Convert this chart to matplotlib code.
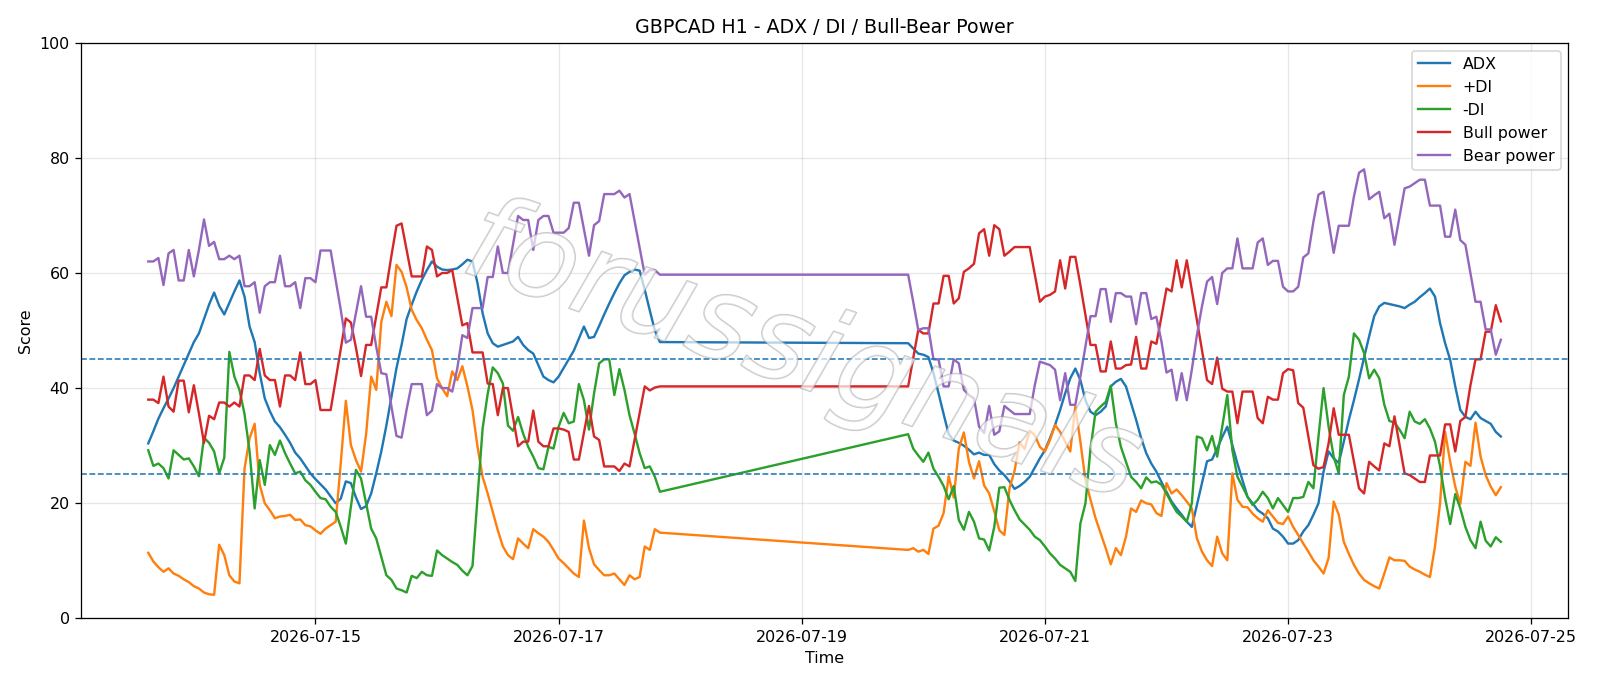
import matplotlib
matplotlib.use("Agg")
import matplotlib.pyplot as plt
import matplotlib.dates as mdates
import matplotlib.patheffects as pe
import pandas as pd

# hourly bars, weekend gap between Friday 20:00 and Sunday 21:00
times_week1 = pd.date_range("2026-07-13 15:00", "2026-07-17 20:00", freq="h")
times_week2 = pd.date_range("2026-07-19 21:00", "2026-07-24 18:00", freq="h")
times = list(times_week1) + list(times_week2)

adx = [
    30.4, 32.5, 34.7, 36.5, 38.2, 40.0, 42.0, 44.0, 46.0, 48.0,
    49.5, 52.0, 54.5, 56.6, 54.3, 52.8, 54.8, 56.8, 58.7, 55.9,
    50.7, 48.0, 42.6, 38.2, 36.0, 34.2, 33.2, 31.9, 30.5, 28.8,
    27.8, 26.5, 25.2, 24.2, 23.3, 22.4, 21.2, 20.0, 20.8, 23.8,
    23.5, 21.0, 19.0, 19.5, 21.7, 25.2, 29.0, 33.5, 38.5, 43.5,
    47.5, 52.0, 54.5, 56.8, 58.8, 60.5, 62.0, 61.1, 60.6, 60.5,
    60.6, 60.8, 61.5, 62.3, 62.0, 58.2, 53.0, 49.5, 47.8, 47.2,
    47.5, 47.8, 48.1, 48.9, 47.5, 46.6, 46.0, 44.0, 42.0, 41.4,
    41.0, 42.0, 43.5, 45.0, 46.5, 48.6, 50.7, 48.7, 48.9, 50.8,
    52.8, 54.7, 56.5, 58.2, 59.6, 60.2, 60.6, 60.4, 57.1, 53.5,
    50.0, 48.0,
    47.8, 46.9, 46.0, 45.8, 45.4, 42.6, 39.1, 35.5, 32.0, 30.9,
    30.5, 30.0, 29.3, 28.5, 28.8, 28.4, 28.4, 26.8, 25.7, 24.9,
    23.8, 22.5, 23.0, 23.7, 24.6, 26.2, 27.8, 29.2, 31.3, 33.6,
    36.2, 39.1, 41.7, 43.4, 41.4, 37.9, 35.9, 35.3, 35.9, 36.8,
    40.3, 41.1, 41.6, 40.3, 37.4, 34.5, 31.3, 28.7, 26.9, 25.5,
    23.7, 22.0, 20.3, 19.1, 18.0, 16.8, 15.9, 19.7, 23.5, 27.3,
    27.6, 29.5, 31.5, 33.3, 30.1, 26.9, 24.0, 21.1, 20.0, 18.8,
    18.2, 17.4, 15.6, 15.1, 14.2, 13.0, 13.0, 13.6, 15.1, 16.2,
    18.0, 20.0, 25.5, 29.0, 27.8, 27.0, 30.7, 34.5, 37.9, 41.5,
    45.3, 49.0, 52.5, 54.2, 54.8, 54.6, 54.4, 54.2, 53.9, 54.5,
    55.0, 55.8, 56.5, 57.3, 55.9, 51.3, 47.8, 44.9, 40.3, 36.2,
    35.0, 34.6, 35.9, 34.8, 34.3, 33.8, 32.4, 31.6,
]

plus_di = [
    11.4, 9.9, 8.9, 8.1, 8.7, 7.8, 7.4, 6.8, 6.3, 5.6,
    5.2, 4.5, 4.2, 4.1, 12.8, 11.0, 7.5, 6.4, 6.1, 26.0,
    31.3, 33.8, 23.2, 20.0, 18.8, 17.4, 17.7, 17.8, 18.0, 17.1,
    17.2, 16.2, 16.0, 15.3, 14.7, 15.6, 16.2, 16.8, 27.0, 37.8,
    30.1, 27.5, 25.5, 32.0, 42.0, 39.7, 51.5, 55.0, 52.5, 61.4,
    60.2, 57.5, 53.6, 51.8, 50.4, 48.4, 46.6, 41.7, 40.0, 38.6,
    42.9, 41.4, 43.8, 40.3, 36.2, 29.8, 24.6, 21.7, 18.5, 15.3,
    12.5, 11.0, 10.3, 13.9, 13.0, 12.2, 15.5, 14.8, 14.2, 13.3,
    11.9, 10.4, 9.6, 8.7, 7.8, 7.2, 17.0, 12.2, 9.4, 8.4,
    7.5, 7.5, 7.8, 6.8, 5.8, 7.5, 6.8, 7.2, 12.5, 11.9,
    15.5, 14.9,
    11.9, 12.2, 11.6, 11.9, 11.2, 15.6, 16.1, 18.3, 24.7, 21.0,
    29.5, 32.3, 27.2, 24.3, 27.3, 23.1, 21.7, 18.6, 15.3, 14.5,
    22.6, 25.6, 30.6, 29.4, 32.6, 31.8, 29.8, 29.0, 31.0, 33.6,
    32.4, 30.7, 29.0, 36.8, 30.7, 24.0, 20.6, 17.4, 14.8, 12.2,
    9.4, 12.2, 11.0, 14.2, 19.1, 18.5, 20.5, 20.0, 19.8, 18.3,
    17.8, 23.5, 21.7, 22.4, 21.4, 20.3, 19.1, 13.9, 11.6, 10.1,
    9.1, 14.2, 11.3, 10.1, 25.2, 20.6, 19.4, 19.3, 18.2, 17.4,
    16.8, 18.8, 17.7, 16.6, 16.4, 17.7, 15.9, 14.5, 13.0, 11.6,
    10.1, 9.0, 7.8, 10.5, 20.3, 18.0, 13.3, 11.2, 9.3, 7.8,
    6.7, 6.1, 5.6, 5.2, 7.8, 10.6, 10.1, 10.1, 10.0, 9.0,
    8.5, 8.1, 7.6, 7.2, 12.5, 20.0, 32.4, 27.2, 22.9, 19.9,
    27.2, 26.5, 34.0, 28.1, 24.9, 22.9, 21.4, 22.8,
]

minus_di = [
    29.2, 26.5, 26.9, 26.1, 24.3, 29.2, 28.4, 27.6, 27.8, 26.4,
    24.7, 31.4, 30.5, 29.0, 25.2, 27.9, 46.3, 42.0, 39.7, 35.5,
    29.0, 19.1, 27.5, 23.2, 30.1, 28.4, 30.9, 28.7, 26.9, 25.2,
    25.5, 24.0, 23.2, 22.0, 20.9, 20.7, 19.4, 18.5, 15.9, 13.0,
    19.4, 25.8, 24.3, 20.0, 15.6, 13.9, 10.7, 7.5, 6.7, 5.2,
    4.9, 4.5, 7.4, 7.0, 8.1, 7.5, 7.4, 11.8, 11.0, 10.4,
    9.8, 9.3, 8.3, 7.5, 9.1, 21.0, 33.0, 39.0, 43.6, 42.6,
    40.8, 33.5, 32.6, 35.0, 32.1, 29.8, 28.1, 26.1, 25.9, 29.8,
    29.5, 33.3, 35.7, 33.9, 34.2, 40.7, 37.9, 32.8, 39.1, 44.3,
    45.0, 45.0, 38.8, 43.3, 39.7, 35.3, 32.1, 28.7, 26.1, 26.4,
    24.6, 22.0,
    32.0, 29.5, 28.3, 27.2, 28.8, 26.0, 24.6, 23.0, 20.7, 23.0,
    17.1, 15.4, 18.5, 16.8, 13.9, 13.7, 11.8, 15.9, 22.7, 22.8,
    20.6, 18.8, 17.2, 16.3, 15.4, 14.2, 13.6, 12.5, 11.3, 10.4,
    9.3, 8.7, 8.1, 6.5, 16.5, 20.0, 29.5, 35.9, 36.8, 37.6,
    40.4, 33.9, 29.8, 27.2, 24.6, 23.7, 22.6, 24.5, 23.6, 23.8,
    23.2, 21.7, 20.0, 18.5, 17.7, 16.8, 20.0, 31.6, 31.3, 29.2,
    31.7, 28.1, 33.3, 38.8, 29.2, 24.6, 22.9, 21.1, 19.7, 20.6,
    22.0, 20.9, 19.1, 20.9, 19.7, 18.5, 20.9, 20.9, 21.1, 23.7,
    22.6, 31.6, 40.0, 33.3, 28.1, 25.2, 38.8, 42.0, 49.5, 48.4,
    46.1, 41.7, 43.2, 41.7, 37.1, 34.3, 34.0, 32.8, 31.3, 35.9,
    34.2, 33.8, 34.6, 33.0, 30.7, 26.4, 20.9, 16.4, 21.6, 19.1,
    15.9, 13.6, 12.2, 16.8, 13.5, 12.5, 14.1, 13.3,
]

bull_power = [
    38.0, 38.0, 37.4, 42.0, 36.8, 35.9, 41.3, 41.3, 35.8, 40.5,
    35.6, 30.5, 35.2, 34.6, 37.5, 37.5, 36.8, 37.5, 36.8, 42.2,
    42.2, 41.4, 46.8, 42.2, 41.4, 41.4, 36.8, 42.2, 42.2, 41.4,
    46.2, 40.7, 40.7, 41.4, 36.2, 36.2, 36.2, 41.5, 46.8, 52.1,
    51.4, 47.0, 42.1, 47.5, 47.5, 52.5, 57.5, 57.5, 63.0, 68.2,
    68.6, 64.0, 59.4, 59.4, 59.4, 64.6, 64.0, 59.4, 60.0, 60.0,
    60.5, 55.7, 50.9, 51.3, 46.2, 46.2, 46.2, 40.8, 40.7, 35.3,
    40.0, 40.0, 35.0, 29.9, 30.7, 30.7, 36.1, 30.7, 29.9, 29.9,
    33.0, 33.0, 32.8, 32.4, 27.6, 27.6, 32.3, 36.9, 31.6, 31.0,
    26.4, 26.4, 26.4, 25.6, 26.9, 26.4, 31.0, 35.7, 40.3, 39.6,
    40.1, 40.3,
    40.3, 45.2, 50.1, 49.5, 49.5, 54.7, 54.7, 59.5, 59.5, 54.7,
    55.6, 60.2, 60.8, 61.6, 66.9, 67.6, 63.0, 68.3, 67.6, 63.0,
    63.7, 64.5, 64.5, 64.5, 64.5, 59.7, 55.0, 55.9, 56.2, 56.8,
    62.2, 57.3, 62.8, 62.8, 57.9, 52.7, 47.5, 47.5, 42.9, 42.9,
    48.1, 43.4, 43.4, 44.0, 44.1, 48.9, 43.4, 43.4, 48.1, 47.7,
    52.4, 57.3, 56.8, 62.2, 57.5, 62.2, 57.0, 51.8, 46.6, 41.4,
    40.7, 45.3, 39.9, 39.4, 39.4, 33.9, 39.4, 39.4, 39.4, 34.8,
    33.9, 38.5, 38.0, 38.0, 42.6, 43.3, 43.1, 37.4, 36.6, 31.6,
    26.6, 26.0, 26.3, 30.4, 36.5, 31.9, 31.9, 31.9, 27.2, 22.6,
    21.7, 27.2, 26.4, 25.7, 30.4, 29.9, 35.1, 30.1, 25.2, 24.9,
    24.3, 23.7, 23.7, 28.3, 28.3, 28.3, 33.7, 33.7, 29.0, 34.3,
    35.0, 40.5, 45.0, 45.0, 49.8, 49.8, 54.4, 51.6,
]

bear_power = [
    62.0, 62.0, 62.6, 57.9, 63.4, 64.0, 58.7, 58.7, 64.0, 59.4,
    64.0, 69.3, 64.7, 65.4, 62.4, 62.4, 63.0, 62.4, 63.0, 57.7,
    57.7, 58.4, 53.1, 57.7, 58.4, 58.4, 63.0, 57.7, 57.7, 58.4,
    53.9, 59.1, 59.1, 58.4, 63.9, 63.9, 63.9, 58.8, 53.6, 47.9,
    48.4, 53.0, 57.7, 52.4, 52.4, 47.2, 42.6, 42.4, 36.8, 31.7,
    31.4, 36.3, 40.7, 40.7, 40.7, 35.3, 36.1, 40.7, 40.0, 40.0,
    39.4, 43.4, 49.2, 48.7, 53.9, 53.9, 53.9, 59.3, 59.3, 64.6,
    60.0, 60.0, 64.9, 69.9, 69.2, 69.2, 64.0, 69.2, 69.9, 69.9,
    67.0, 67.0, 67.0, 67.8, 72.2, 72.2, 67.6, 63.0, 68.3, 69.0,
    73.7, 73.7, 73.7, 74.3, 73.1, 73.7, 69.0, 64.4, 59.7, 60.5,
    60.5, 59.7,
    59.7, 55.0, 50.1, 50.4, 50.4, 45.0, 45.0, 40.3, 40.3, 45.0,
    44.3, 39.7, 38.8, 38.2, 33.3, 32.2, 36.9, 31.9, 32.5, 36.9,
    36.2, 35.5, 35.5, 35.5, 35.5, 40.5, 44.6, 44.3, 44.0, 43.2,
    37.9, 42.6, 37.1, 37.1, 42.0, 47.2, 52.5, 52.5, 57.2, 57.2,
    51.5, 56.5, 56.5, 55.9, 55.9, 51.1, 56.5, 56.5, 52.0, 52.4,
    48.1, 42.7, 43.2, 37.9, 42.6, 37.9, 43.2, 49.2, 54.2, 58.5,
    59.3, 54.6, 60.0, 60.8, 60.8, 66.0, 60.8, 60.8, 60.8, 65.3,
    66.0, 61.4, 62.1, 62.1, 57.6, 56.8, 56.8, 57.6, 62.7, 63.4,
    68.9, 73.6, 74.1, 68.9, 63.5, 68.2, 68.2, 68.2, 73.3, 77.4,
    78.0, 72.8, 73.5, 74.1, 69.5, 70.3, 64.9, 69.8, 74.7, 75.0,
    75.6, 76.2, 76.2, 71.7, 71.7, 71.7, 66.3, 66.3, 71.0, 65.7,
    64.9, 60.0, 55.0, 55.0, 50.2, 50.2, 45.8, 48.4,
]

# 14 x 6 inch figure, saved at 1600 x 686 px
dpi = 1600 / 14
fig = plt.figure(figsize=(14, 686 / dpi), dpi=dpi)
ax = fig.add_axes([0.0504, 0.0985, 0.9299, 0.8393])

ax.plot(times, adx, label="ADX")
ax.plot(times, plus_di, label="+DI")
ax.plot(times, minus_di, label="-DI")
ax.plot(times, bull_power, label="Bull power")
ax.plot(times, bear_power, label="Bear power")

# trend strength thresholds
ax.axhline(25, color="C0", linestyle="--", linewidth=1)
ax.axhline(45, color="C0", linestyle="--", linewidth=1)

ax.set_ylim(0, 100)
ax.xaxis.set_major_locator(mdates.DayLocator(bymonthday=range(1, 32, 2)))
ax.xaxis.set_major_formatter(mdates.DateFormatter("%Y-%m-%d"))
ax.grid(True, alpha=0.3)
ax.set_title("GBPCAD H1 - ADX / DI / Bull-Bear Power")
ax.set_xlabel("Time")
ax.set_ylabel("Score")
ax.legend(loc="upper right")

# watermark
ax.text(0.485, 0.46, "forussignals", transform=ax.transAxes, fontsize=74,
        rotation=-19, ha="center", va="center", style="italic",
        color=(1, 1, 1, 0.45), zorder=10,
        path_effects=[pe.withStroke(linewidth=1.1, foreground=(0.6, 0.6, 0.6, 0.55))])

fig.savefig("out.png", dpi=dpi)
